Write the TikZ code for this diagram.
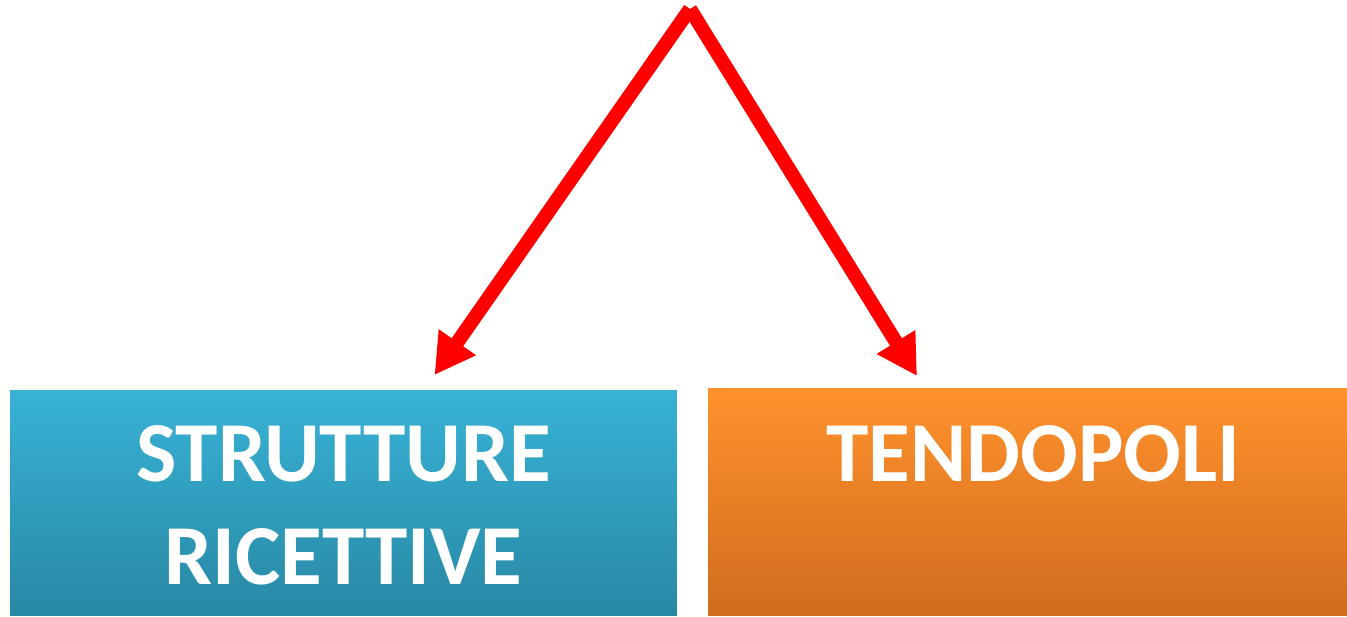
\documentclass[tikz,border=0pt]{standalone}
\usepackage{fontspec}
\setmainfont{Carlito}
\usepackage{tikz}
\usetikzlibrary{calc,arrows.meta,positioning}
\definecolor{rouge}{RGB}{255,0,0}
\definecolor{bleuhaut}{RGB}{56,178,214}
\definecolor{bleubas}{RGB}{40,136,164}
\definecolor{orangehaut}{RGB}{255,146,44}
\definecolor{orangebas}{RGB}{208,108,30}
\tikzset{
  boite/.style={minimum width=#1, inner sep=0pt, outer sep=0pt},
  titre/.style={text=white, font=\fontsize{48.6}{58.5}\selectfont\bfseries, align=center, anchor=north, inner sep=0pt},
  freccia/.style={rouge, line width=8pt, -{Triangle[length=0.8cm,width=0.85cm]}}
}

\begin{document}
\begin{tikzpicture}[x=0.02cm,y=-0.02cm]
\useasboundingbox (0,0) rectangle (1347,617);

\node (strutture) [boite=13.34cm, minimum height=4.52cm, top color=bleuhaut, bottom color=bleubas] at (343.5,503) {};
\node (tendopoli) [boite=12.78cm, minimum height=4.56cm, top color=orangehaut, bottom color=orangebas] at (1027.5,502) {};

\node (t1) [titre] at ($(strutture.north)+(0,35)$) {STRUTTURE\\RICETTIVE};
\node (t2) [titre] at ($(tendopoli.north)+(6,37)$) {TENDOPOLI};

\coordinate (apice) at (690,9);

\draw [freccia] (apice) -- ($(strutture.north)+(91,-15)$);
\draw [freccia] (apice) -- ($(tendopoli.north)+(-110.5,-12)$);

\end{tikzpicture}
\end{document}
